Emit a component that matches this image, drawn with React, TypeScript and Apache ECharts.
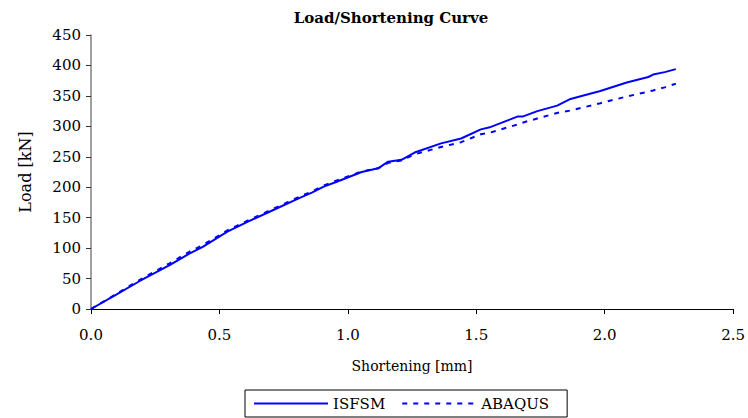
import React, { useEffect, useRef } from "react";
import * as echarts from "echarts";

const shortening = [0, 0.1, 0.19, 0.306, 0.383, 0.435, 0.531, 0.609, 0.712, 0.815, 0.86, 0.906, 0.957, 1.054, 1.118, 1.157, 1.209, 1.26, 1.363, 1.441, 1.518, 1.557, 1.66, 1.68, 1.738, 1.815, 1.867, 1.983, 2.086, 2.17, 2.189, 2.234, 2.277];
const isfsm = [0, 24, 46, 72, 91, 102, 127, 143, 163, 183, 191, 201, 209, 225, 231, 242, 245, 257, 272, 280, 295, 299, 316, 316, 325, 334, 345, 358, 372, 381, 385, 389, 394];
const abaqus = [0, 25, 48, 75, 94, 105, 129, 145, 165, 185, 193, 203, 211, 226, 231, 240, 244, 254, 266, 274, 287, 290, 303, 306, 313, 322, 326, 338, 349, 357, 359, 364, 370];

const FONT = "DejaVu Serif";

export default function App() {
  const ref = useRef<HTMLDivElement>(null);
  useEffect(() => {
    if (!ref.current) return;
    const chart = echarts.init(ref.current, undefined, { renderer: "svg" });
    chart.setOption({
      animation: false,
      textStyle: { fontFamily: FONT },
      title: {
        text: "Load/Shortening Curve",
        left: 386,
        top: 5,
        textAlign: "center",
        textStyle: { fontFamily: FONT, fontSize: 15, fontWeight: "bold", color: "#000" },
      },
      legend: {
        left: 245,
        top: 390,
        orient: "horizontal",
        itemWidth: 74,
        itemHeight: 14,
        itemGap: 16,
        padding: [6, 18, 6, 8],
        borderColor: "#000",
        borderWidth: 1,
        itemStyle: { opacity: 0 },
        textStyle: { fontFamily: FONT, fontSize: 15, color: "#000" },
        data: ["ISFSM", "ABAQUS"],
      },
      grid: { left: 91, right: 11, top: 35, bottom: 109 },
      xAxis: {
        type: "value",
        min: 0,
        max: 2.5,
        interval: 0.5,
        name: "Shortening [mm]",
        nameLocation: "middle",
        nameGap: 50,
        nameTextStyle: { fontFamily: FONT, fontSize: 14, color: "#000" },
        axisLine: { onZero: false, lineStyle: { color: "#000", width: 1 } },
        axisTick: { show: true, length: 5, lineStyle: { color: "#000" } },
        axisLabel: {
          fontFamily: FONT,
          fontSize: 15,
          color: "#000",
          margin: 18,
          formatter: (v: number) => v.toFixed(1),
        },
        splitLine: { show: false },
      },
      yAxis: {
        type: "value",
        min: 0,
        max: 450,
        interval: 50,
        name: "Load [kN]",
        nameLocation: "middle",
        nameGap: 58,
        nameTextStyle: { fontFamily: FONT, fontSize: 16, color: "#000" },
        axisLine: { show: true, lineStyle: { color: "#808080", width: 1.5 } },
        axisTick: { show: true, length: 5, lineStyle: { color: "#333" } },
        axisLabel: { fontFamily: FONT, fontSize: 15, color: "#000", margin: 10 },
        splitLine: { show: false },
      },
      series: [
        {
          name: "ISFSM",
          type: "line",
          symbol: "none",
          data: shortening.map((x, i) => [x, isfsm[i]]),
          lineStyle: { color: "#0000FF", width: 2 },
          itemStyle: { color: "#0000FF" },
          z: 3,
        },
        {
          name: "ABAQUS",
          type: "line",
          symbol: "none",
          data: shortening.map((x, i) => [x, abaqus[i]]),
          lineStyle: { color: "#0000FF", width: 2, type: [5, 6] },
          itemStyle: { color: "#0000FF" },
          z: 2,
        },
      ],
    });
    return () => chart.dispose();
  }, []);
  return <div ref={ref} style={{ width: 748, height: 418, position: "absolute", left: 0, top: 0, background: "#fff" }} />;
}
